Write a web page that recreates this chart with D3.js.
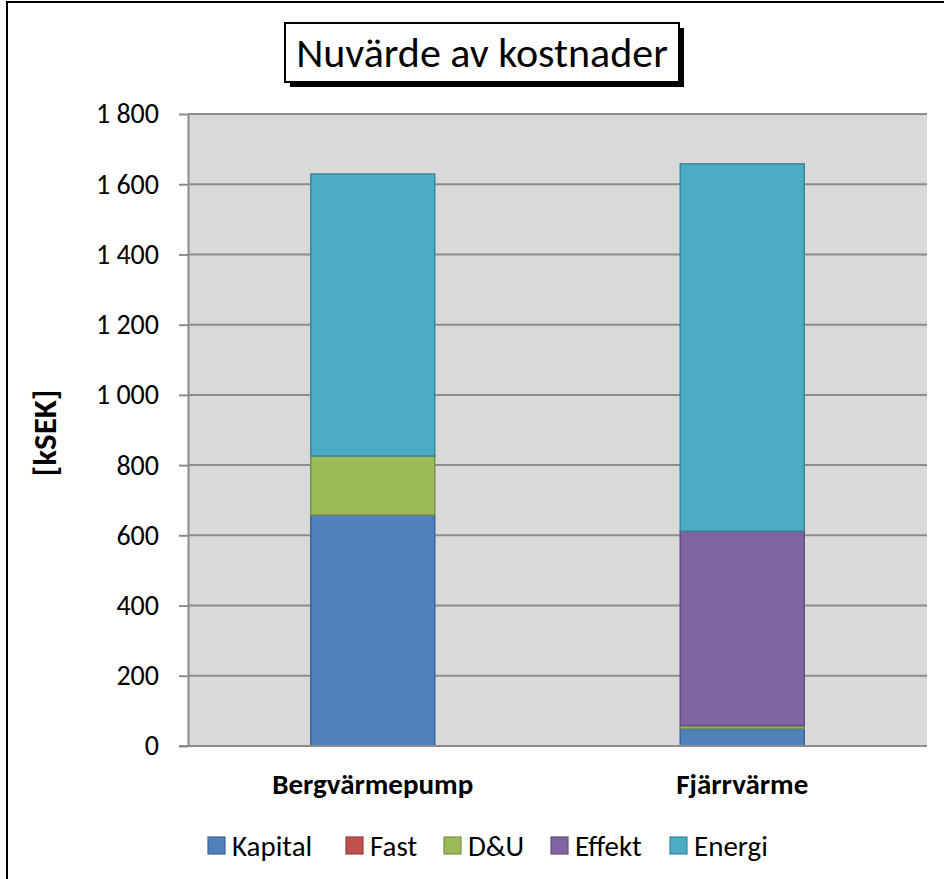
<!DOCTYPE html>
<html>
<head>
<meta charset="utf-8">
<script src="https://cdn.jsdelivr.net/npm/d3@7"></script>
<style>
  html, body { margin: 0; padding: 0; background: #fff; }
  svg { display: block; font-family: Carlito, Calibri, Lato, "Open Sans", sans-serif; }
</style>
</head>
<body>
<svg id="chart" width="944" height="879"></svg>
<script>
// Net present value of costs per heating alternative (kSEK)
const categories = ["Bergvärmepump", "Fjärrvärme"];
const seriesNames = ["Kapital", "Fast", "D&U", "Effekt", "Energi"];
const kapital = [658, 50];
const fast    = [0, 0];
const dou     = [168, 8];
const effekt  = [0, 554];
const energi  = [803, 1046];
const yTicks  = [0, 200, 400, 600, 800, 1000, 1200, 1400, 1600, 1800];
const colors  = ["#4F81BD", "#C0504D", "#9BBB59", "#8064A2", "#4BACC6"];

const seriesValues = [kapital, fast, dou, effekt, energi];
const rows = categories.map((c, i) => {
  const r = { category: c };
  seriesNames.forEach((s, k) => r[s] = seriesValues[k][i]);
  return r;
});

const svg = d3.select("#chart");
const plot = { left: 188, right: 927, top: 114, bottom: 746 };

// Outer chart frame
svg.append("rect")
  .attr("x", 7).attr("y", 2).attr("width", 960).attr("height", 900)
  .attr("fill", "none").attr("stroke", "#000").attr("stroke-width", 2);

const x = d3.scaleBand().domain(categories).range([plot.left, plot.right]).paddingInner(0).paddingOuter(0);
const y = d3.scaleLinear().domain([0, 1800]).range([plot.bottom, plot.top]);
const barW = 124;

// Plot background
svg.append("rect")
  .attr("x", plot.left).attr("y", plot.top)
  .attr("width", plot.right - plot.left).attr("height", plot.bottom - plot.top)
  .attr("fill", "#D9D9D9");

// Gridlines
svg.append("g").selectAll("line").data(yTicks.filter(t => t > 0)).join("line")
  .attr("x1", plot.left).attr("x2", plot.right)
  .attr("y1", d => y(d)).attr("y2", d => y(d))
  .attr("stroke", "#8C8C8C").attr("stroke-width", 2);

// Stacked bars
const stack = d3.stack().keys(seriesNames)(rows);
const color = d3.scaleOrdinal().domain(seriesNames).range(colors);
svg.append("g").selectAll("g").data(stack).join("g")
  .attr("fill", d => color(d.key))
  .attr("stroke", d => d3.color(color(d.key)).darker(0.7))
  .attr("stroke-width", 1.5)
  .selectAll("rect").data(d => d.filter(p => p[1] - p[0] > 0)).join("rect")
  .attr("x", d => x(d.data.category) + x.bandwidth() / 2 - barW / 2)
  .attr("width", barW)
  .attr("y", d => y(d[1]))
  .attr("height", d => y(d[0]) - y(d[1]));

// Y axis
const fmt = v => d3.format(",")(v).replace(/,/g, " ");
const yAxis = svg.append("g")
  .attr("transform", `translate(${plot.left},0)`)
  .call(d3.axisLeft(y).tickValues(yTicks).tickFormat(fmt).tickSize(9).tickSizeOuter(0).tickPadding(20));
yAxis.select(".domain").attr("stroke", "#8C8C8C").attr("stroke-width", 2);
yAxis.selectAll(".tick line").attr("stroke", "#8C8C8C").attr("stroke-width", 2);
yAxis.selectAll(".tick text").attr("font-size", 28).attr("fill", "#000")
  .attr("font-family", "Carlito, Calibri, Lato, sans-serif");

// X axis baseline
svg.append("line")
  .attr("x1", plot.left - 9).attr("x2", plot.right)
  .attr("y1", plot.bottom).attr("y2", plot.bottom)
  .attr("stroke", "#8C8C8C").attr("stroke-width", 2);

// Category labels
svg.append("g").selectAll("text").data(categories).join("text")
  .attr("x", d => x(d) + x.bandwidth() / 2)
  .attr("y", 794)
  .attr("text-anchor", "middle")
  .attr("font-size", 29).attr("font-weight", "bold")
  .text(d => d);

// Y axis title
svg.append("text")
  .attr("transform", "translate(56,433) rotate(-90)")
  .attr("text-anchor", "middle")
  .attr("font-size", 33).attr("font-weight", "bold")
  .text("[kSEK]");

// Title box with drop shadow
const tb = { x: 285, y: 23, w: 394, h: 59 };
svg.append("rect").attr("x", tb.x + 5).attr("y", tb.y + 5).attr("width", tb.w).attr("height", tb.h).attr("fill", "#000");
svg.append("rect").attr("x", tb.x).attr("y", tb.y).attr("width", tb.w).attr("height", tb.h)
  .attr("fill", "#fff").attr("stroke", "#000").attr("stroke-width", 2);
svg.append("text")
  .attr("x", tb.x + tb.w / 2).attr("y", tb.y + 44)
  .attr("text-anchor", "middle")
  .attr("font-size", 42)
  .text("Nuvärde av kostnader");

// Legend
const legendX = [208, 346, 444, 551, 670];
const lg = svg.append("g").selectAll("g").data(seriesNames).join("g")
  .attr("transform", (d, i) => `translate(${legendX[i]},837)`);
lg.append("rect").attr("width", 17).attr("height", 17)
  .attr("fill", d => color(d))
  .attr("stroke", d => d3.color(color(d)).darker(0.7)).attr("stroke-width", 1.2);
lg.append("text").attr("x", 24).attr("y", 19)
  .attr("font-size", 29).text(d => d);
</script>
</body>
</html>
